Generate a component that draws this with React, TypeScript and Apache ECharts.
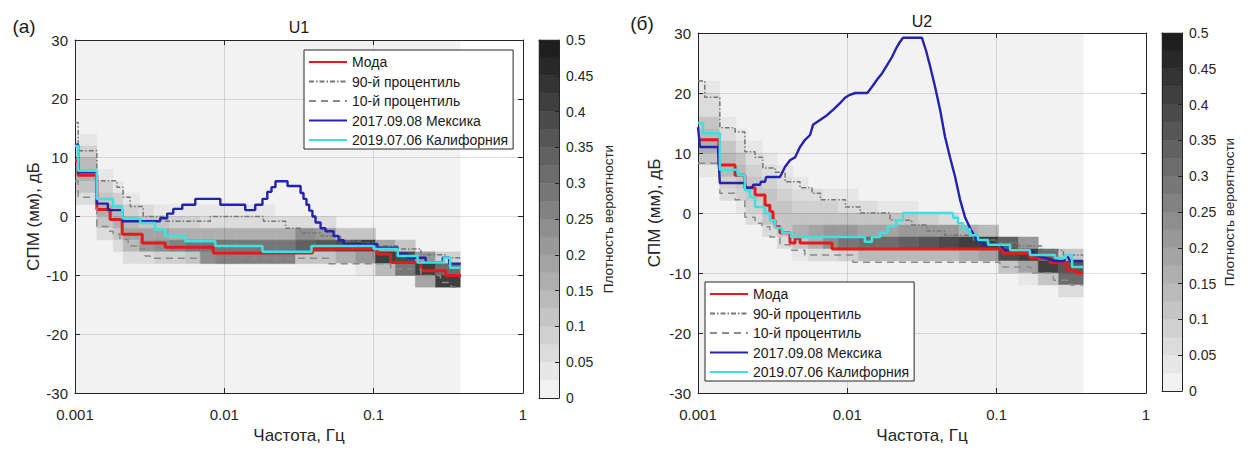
import { useEffect, useRef } from "react";
import * as echarts from "echarts";

const FONT = '"Liberation Sans", Arial, Helvetica, sans-serif';
const INK = "#262626";
const GRID_LINE = "rgba(38,38,38,0.15)";

const xTickLabels = ["0.001", "0.01", "0.1", "1"];
const legendNames = [
  "Мода",
  "90-й процентиль",
  "10-й процентиль",
  "2017.09.08 Мексика",
  "2019.07.06 Калифорния",
];

// Histogram frequency bin edges, Hz
const freqEdges = [
  0.001, 0.0014, 0.0018, 0.0021, 0.0027, 0.0034, 0.0043, 0.0055, 0.0069, 0.0087, 0.0119,
  0.016, 0.022, 0.03, 0.041, 0.056, 0.076, 0.103, 0.14, 0.19, 0.26, 0.38,
];
const binDb = 2;

// U1: upper edge (dB) of the first non-empty bin in each column, then densities going down
const u1ColumnTop = [14, 8, 6, 4, 2, 2, 2, 2, 2, 2, 2, 2, 2, 0, 0, -2, -2, -4, -4, -6, -6];
const u1ColumnDensity = [
  [0.04, 0.08, 0.14, 0.17, 0.12, 0.05],
  [0.04, 0.08, 0.12, 0.16, 0.12, 0.06],
  [0.04, 0.08, 0.13, 0.17, 0.12, 0.05],
  [0.03, 0.08, 0.14, 0.18, 0.14, 0.05],
  [0.05, 0.12, 0.18, 0.2, 0.07],
  [0.04, 0.1, 0.18, 0.24, 0.08],
  [0.04, 0.09, 0.17, 0.27, 0.09],
  [0.03, 0.08, 0.16, 0.29, 0.1],
  [0.03, 0.06, 0.15, 0.28, 0.24],
  [0.03, 0.06, 0.15, 0.28, 0.25],
  [0.03, 0.06, 0.15, 0.28, 0.26],
  [0.03, 0.06, 0.16, 0.28, 0.26],
  [0.02, 0.06, 0.17, 0.29, 0.26],
  [0.06, 0.24, 0.34, 0.12],
  [0.05, 0.2, 0.36, 0.12],
  [0.12, 0.38, 0.16, 0.02],
  [0.1, 0.4, 0.2, 0.03],
  [0.18, 0.42, 0.14],
  [0.1, 0.38, 0.28],
  [0.2, 0.42, 0.18],
  [0.08, 0.32, 0.4],
];

// U2 histogram columns
const u2ColumnTop = [22, 16, 14, 12, 10, 8, 6, 6, 4, 4, 2, 2, 2, 0, 0, -2, -2, -4, -4, -6, -6];
const u2ColumnDensity = [
  [0.03, 0.05, 0.07, 0.1, 0.14, 0.15, 0.1, 0.04],
  [0.04, 0.07, 0.11, 0.14, 0.13, 0.09, 0.05, 0.02],
  [0.04, 0.07, 0.1, 0.13, 0.12, 0.08, 0.04],
  [0.03, 0.06, 0.09, 0.11, 0.11, 0.09, 0.05, 0.02],
  [0.03, 0.05, 0.08, 0.1, 0.11, 0.1, 0.06, 0.02],
  [0.03, 0.05, 0.08, 0.1, 0.12, 0.12, 0.07, 0.02],
  [0.03, 0.06, 0.09, 0.12, 0.16, 0.12, 0.04],
  [0.02, 0.05, 0.08, 0.12, 0.18, 0.16, 0.05],
  [0.04, 0.08, 0.12, 0.2, 0.24, 0.06],
  [0.03, 0.06, 0.11, 0.2, 0.28, 0.08],
  [0.05, 0.1, 0.18, 0.3, 0.14],
  [0.04, 0.1, 0.18, 0.32, 0.14],
  [0.03, 0.1, 0.2, 0.34, 0.14],
  [0.08, 0.2, 0.36, 0.14],
  [0.06, 0.2, 0.38, 0.14],
  [0.16, 0.4, 0.16],
  [0.14, 0.42, 0.18],
  [0.34, 0.38, 0.1],
  [0.2, 0.42, 0.18, 0.03],
  [0.3, 0.4, 0.12],
  [0.12, 0.36, 0.3, 0.06],
];

// Spectral curves: [frequency Hz, dB], each value held until the next frequency
const u1Mode = [
  [0.001, 9.5], [0.00105, 7], [0.0014, 1.2], [0.00172, -0.5], [0.00207, -3], [0.00282, -4.5],
  [0.00402, -5.2], [0.00844, -6.2], [0.0389, -5.5], [0.106, -6.4], [0.13, -7.8], [0.207, -9.2],
  [0.304, -10], [0.384, -10],
];
const u1P90 = [
  [0.001, 16], [0.00105, 11.2], [0.0014, 6.1], [0.00191, 5], [0.0021, 3.3], [0.00234, 1.7],
  [0.00286, 0], [0.00402, -0.8], [0.00805, 0], [0.0183, -0.8], [0.0257, -2], [0.0324, -2.8],
  [0.0441, -3.3], [0.06, -4.2], [0.0818, -4.5], [0.106, -5], [0.145, -5.5], [0.207, -6.5],
  [0.304, -7], [0.384, -7],
];
const u1P10 = [
  [0.001, 6], [0.00105, 3.3], [0.0014, -1.7], [0.00166, -2.5], [0.0018, -3], [0.002, -3.9],
  [0.00227, -5], [0.00273, -5.5], [0.00295, -6.7], [0.00319, -7.1], [0.05, -8], [0.13, -8.9],
  [0.207, -10], [0.28, -11.2], [0.33, -12], [0.384, -12],
];
const u1Mexico = [
  [0.001, 12.2], [0.00105, 7.5], [0.0014, 2.2], [0.00166, 1.1], [0.00207, -0.8], [0.00372, -0.3],
  [0.00414, 0.5], [0.00455, 1.3], [0.00523, 2], [0.00639, 3], [0.0094, 2], [0.0138, 1.1],
  [0.0161, 2], [0.018, 3], [0.0194, 4.2], [0.0207, 5], [0.022, 6], [0.0265, 5.2], [0.0324, 4],
  [0.0339, 3], [0.0355, 2], [0.037, 1], [0.0389, 0], [0.0408, -1], [0.0441, -2], [0.0476, -2.5],
  [0.0539, -3.3], [0.0582, -4], [0.0629, -4.7], [0.106, -5.3], [0.145, -6.3], [0.169, -7],
  [0.223, -7.8], [0.29, -7], [0.32, -8], [0.384, -8],
];
const u1California = [
  [0.001, 12], [0.00105, 7.8], [0.0014, 3], [0.0018, 1.7], [0.00207, -0.3], [0.00273, -1.1],
  [0.00344, -2.2], [0.00402, -3.3], [0.00547, -4.2], [0.0087, -5], [0.018, -6], [0.0383, -5],
  [0.1, -5.5], [0.145, -6.7], [0.197, -7.8], [0.295, -7], [0.325, -8.7], [0.384, -8.7],
];

const u2Mode = [
  [0.001, 12.2], [0.00138, 8], [0.00177, 6.3], [0.00206, 4.2], [0.00241, 3], [0.00281, 1.3],
  [0.00303, 0.2], [0.00318, -1.2], [0.00328, -2.3], [0.00354, -3.3], [0.00413, -5],
  [0.00447, -4.2], [0.00482, -5], [0.0079, -6], [0.11, -6.7], [0.167, -7.5], [0.228, -8.3],
  [0.296, -9.5], [0.34, -10], [0.379, -10],
];
const u2P90 = [
  [0.001, 22], [0.00111, 19.3], [0.0014, 14.2], [0.00177, 13.5], [0.00206, 10.2], [0.00241, 9.3],
  [0.00272, 7.5], [0.00328, 6.8], [0.00383, 5.2], [0.00482, 4.2], [0.0058, 3.3], [0.0066, 2.2],
  [0.0097, 1], [0.0122, 0], [0.0193, -1.2], [0.027, -2], [0.034, -3], [0.045, -3.7],
  [0.07, -4.5], [0.1, -5], [0.14, -5.5], [0.2, -6.2], [0.28, -7], [0.379, -7],
];
const u2P10 = [
  [0.001, 8.3], [0.0014, 3.3], [0.00177, 2.2], [0.00206, -0.7], [0.00241, -1.7], [0.00268, -2.3],
  [0.00303, -4], [0.00354, -5.3], [0.00413, -6.2], [0.0052, -7], [0.0109, -8.2], [0.105, -9],
  [0.17, -10], [0.24, -11.2], [0.31, -12], [0.379, -12],
];
// Mexico event on U2, drawn point to point
const u2Mexico = [
  [0.001, 14.3], [0.00103, 11], [0.00136, 11], [0.0014, 5], [0.00206, 5], [0.0021, 4.2],
  [0.0023, 4.2], [0.00234, 4.7], [0.0026, 4.7], [0.00264, 5.2], [0.00281, 5.2], [0.00286, 6],
  [0.00354, 6], [0.00383, 7.7], [0.00413, 8.8], [0.00447, 9.3], [0.00482, 11], [0.00521, 12.2],
  [0.00563, 13], [0.00589, 14.7], [0.00656, 15.5], [0.00731, 16.3], [0.00802, 17.2],
  [0.00893, 18.3], [0.00965, 19.2], [0.0104, 19.7], [0.0113, 20], [0.0136, 20], [0.0146, 21],
  [0.0158, 22.2], [0.0171, 23.3], [0.0185, 24.7], [0.0199, 26], [0.0215, 27.7], [0.0225, 28.5],
  [0.0236, 29.2], [0.0316, 29.2], [0.0337, 27], [0.0358, 24.5], [0.0387, 21], [0.0418, 17.2],
  [0.0451, 12.7], [0.0487, 9.3], [0.0527, 6], [0.0569, 2.2], [0.0614, -0.7], [0.0663, -2.5],
  [0.0739, -4.5], [0.0836, -5.3], [0.105, -5.3], [0.114, -6.2], [0.167, -6.2], [0.181, -7],
  [0.211, -7.5], [0.246, -8], [0.283, -8], [0.296, -7], [0.31, -8], [0.379, -8],
];
const u2California = [
  [0.001, 15], [0.00108, 13.3], [0.0014, 7.2], [0.00185, 6.3], [0.00206, 3.8], [0.00223, 2.7],
  [0.00241, 1], [0.00281, 0], [0.00303, -1.2], [0.00328, -2.5], [0.00365, -3.3], [0.0042, -4],
  [0.0131, -4.8], [0.0146, -4], [0.0166, -3.3], [0.0187, -2.2], [0.0212, -1.2], [0.0236, 0],
  [0.051, -0.8], [0.0551, -1.7], [0.0596, -2.7], [0.0663, -3.7], [0.075, -4.5], [0.0876, -5.3],
  [0.123, -6.2], [0.167, -7], [0.246, -7.5], [0.29, -7], [0.32, -9], [0.379, -9],
];

const densityMax = 0.5;
const colorSteps = 20;

// Stepped reversed-gray colormap
function shade(d: number): string {
  const k = Math.max(0, Math.min(colorSteps - 1, Math.floor((d / densityMax) * colorSteps + 1e-9)));
  const g = Math.round(242 - (k * 212) / (colorSteps - 1));
  return `rgb(${g},${g},${g})`;
}

function buildCells(tops: number[], dens: number[][]) {
  const cells: number[][] = [[freqEdges[0], freqEdges[freqEdges.length - 1], 30, -30, 0]];
  tops.forEach((top, i) => {
    dens[i].forEach((d, j) => {
      cells.push([freqEdges[i], freqEdges[i + 1], top - j * binDb, top - (j + 1) * binDb, d]);
    });
  });
  return cells;
}

const colorbarCells = Array.from({ length: colorSteps }, (_, i) => [
  (i * densityMax) / colorSteps,
  ((i + 1) * densityMax) / colorSteps,
]);

const STYLE: Record<string, any> = {
  mode: { color: "#e41a1c", width: 3, type: "solid" },
  p90: { color: "#777777", width: 1.5, type: [5, 2, 1.5, 2] },
  p10: { color: "#8a8a8a", width: 1.5, type: [7, 5] },
  mexico: { color: "#2323b0", width: 2.4, type: "solid" },
  california: { color: "#3ee0e0", width: 2.5, type: "solid" },
};

const heatRender = (params: any, api: any) => {
  const a = api.coord([api.value(0), api.value(2)]);
  const b = api.coord([api.value(1), api.value(3)]);
  const fill = shade(api.value(4));
  return {
    type: "rect",
    shape: { x: a[0], y: a[1], width: b[0] - a[0], height: b[1] - a[1] },
    style: { fill, stroke: fill, lineWidth: 0.5 },
  };
};

const barRender = (params: any, api: any) => {
  const a = api.coord([0, api.value(1)]);
  const b = api.coord([1, api.value(0)]);
  const fill = shade(api.value(0));
  return {
    type: "rect",
    shape: { x: a[0], y: a[1], width: b[0] - a[0], height: b[1] - a[1] },
    style: { fill, stroke: fill, lineWidth: 0.5 },
  };
};

const lineSeries = (name: string, data: number[][], ai: number, style: any, step: any = "end") => ({
  type: "line",
  name,
  data,
  xAxisIndex: ai,
  yAxisIndex: ai,
  step,
  symbol: "none",
  showSymbol: false,
  silent: true,
  z: 3,
  color: style.color,
  lineStyle: style,
});

const plotX = (gridIndex: number, top: boolean) => ({
  type: "log",
  logBase: 10,
  gridIndex,
  min: 0.001,
  max: 1,
  position: top ? "top" : "bottom",
  z: 1,
  axisLine: { show: true, onZero: false, lineStyle: { color: INK, width: 1 } },
  axisTick: { show: true, inside: true, length: 5, lineStyle: { color: INK } },
  axisLabel: top
    ? { show: false }
    : {
        show: true,
        margin: 14,
        fontSize: 15,
        fontFamily: FONT,
        color: INK,
        formatter: (v: number) => xTickLabels[Math.round(Math.log10(v)) + 3],
      },
  splitLine: { show: !top, lineStyle: { color: GRID_LINE, width: 1 } },
  minorTick: { show: false },
  name: top ? "" : "Частота, Гц",
  nameLocation: "middle",
  nameGap: 33,
  nameTextStyle: { fontSize: 17, fontFamily: FONT, color: INK },
});

const plotY = (gridIndex: number, right: boolean, nameGap: number) => ({
  type: "value",
  gridIndex,
  min: -30,
  max: 30,
  interval: 10,
  position: right ? "right" : "left",
  z: 1,
  axisLine: { show: true, onZero: false, lineStyle: { color: INK, width: 1 } },
  axisTick: { show: true, inside: true, length: 5, lineStyle: { color: INK } },
  axisLabel: right
    ? { show: false }
    : { show: true, margin: 7, fontSize: 15, fontFamily: FONT, color: INK },
  splitLine: { show: !right, lineStyle: { color: GRID_LINE, width: 1 } },
  name: right ? "" : "СПМ (мм), дБ",
  nameLocation: "middle",
  nameGap,
  nameTextStyle: { fontSize: 17, fontFamily: FONT, color: INK },
});

const barX = (gridIndex: number, top: boolean) => ({
  type: "value",
  gridIndex,
  min: 0,
  max: 1,
  position: top ? "top" : "bottom",
  z: 1,
  axisLine: { show: true, onZero: false, lineStyle: { color: INK, width: 1 } },
  axisTick: { show: false },
  axisLabel: { show: false },
  splitLine: { show: false },
});

const barY = (gridIndex: number, right: boolean, nameGap: number) => ({
  type: "value",
  gridIndex,
  min: 0,
  max: densityMax,
  interval: 0.05,
  position: right ? "right" : "left",
  z: 1,
  axisLine: { show: true, onZero: false, lineStyle: { color: INK, width: 1 } },
  axisTick: { show: right, inside: true, length: 4, lineStyle: { color: INK } },
  axisLabel: right
    ? { show: true, margin: 7, fontSize: 14, fontFamily: FONT, color: INK }
    : { show: false },
  splitLine: { show: false },
  name: right ? "Плотность вероятности" : "",
  nameLocation: "middle",
  nameGap,
  nameTextStyle: { fontSize: 13.5, fontFamily: FONT, color: INK },
});

const legendBase = {
  orient: "vertical",
  selectedMode: false,
  data: legendNames,
  itemWidth: 38,
  itemHeight: 14,
  itemGap: 5.5,
  padding: [5, 5, 2, 4],
  backgroundColor: "#ffffff",
  borderColor: INK,
  borderWidth: 1,
  borderRadius: 0,
  // line samples only, no marker on them
  itemStyle: { opacity: 0, borderWidth: 0 },
  textStyle: { fontSize: 14, fontFamily: FONT, color: "#1a1a1a" },
};

const titleText = (text: string, x: number, y: number, size: number) => ({
  type: "text",
  x,
  y,
  silent: true,
  style: {
    text,
    fontSize: size,
    fontFamily: FONT,
    fill: "#1a1a1a",
    align: "center",
    verticalAlign: "middle",
  },
});

export default function App() {
  const ref = useRef<HTMLDivElement>(null);

  useEffect(() => {
    if (!ref.current) return;
    const chart = echarts.init(ref.current, undefined, { renderer: "svg" });
    chart.setOption({
      animation: false,
      backgroundColor: "#ffffff",
      grid: [
        { left: 75, top: 40, width: 448, height: 360 },
        { left: 698, top: 33, width: 448, height: 360 },
        { left: 539, top: 40, width: 20, height: 358 },
        { left: 1162, top: 33, width: 20, height: 358 },
      ],
      xAxis: [
        plotX(0, false),
        plotX(0, true),
        plotX(1, false),
        plotX(1, true),
        barX(2, false),
        barX(2, true),
        barX(3, false),
        barX(3, true),
      ],
      yAxis: [
        plotY(0, false, 31),
        plotY(0, true, 0),
        plotY(1, false, 35),
        plotY(1, true, 0),
        barY(2, true, 42),
        barY(2, false, 0),
        barY(3, true, 40),
        barY(3, false, 0),
      ],
      legend: [
        { ...legendBase, left: 304, top: 50 },
        { ...legendBase, left: 705, top: 282 },
      ],
      graphic: [
        titleText("U1", 299, 27, 16),
        titleText("U2", 922, 21, 16),
        titleText("(а)", 24, 26, 19),
        titleText("(б)", 642, 23, 19),
      ],
      series: [
        {
          type: "custom",
          name: "u1-density",
          xAxisIndex: 0,
          yAxisIndex: 0,
          z: -1,
          silent: true,
          clip: true,
          encode: { x: [0, 1], y: [2, 3] },
          data: buildCells(u1ColumnTop, u1ColumnDensity),
          renderItem: heatRender,
        },
        {
          type: "custom",
          name: "u2-density",
          xAxisIndex: 2,
          yAxisIndex: 2,
          z: -1,
          silent: true,
          clip: true,
          encode: { x: [0, 1], y: [2, 3] },
          data: buildCells(u2ColumnTop, u2ColumnDensity),
          renderItem: heatRender,
        },
        {
          type: "custom",
          name: "u1-colorbar",
          xAxisIndex: 4,
          yAxisIndex: 4,
          z: -1,
          silent: true,
          encode: { y: [0, 1] },
          data: colorbarCells,
          renderItem: barRender,
        },
        {
          type: "custom",
          name: "u2-colorbar",
          xAxisIndex: 6,
          yAxisIndex: 6,
          z: -1,
          silent: true,
          encode: { y: [0, 1] },
          data: colorbarCells,
          renderItem: barRender,
        },
        lineSeries(legendNames[0], u1Mode, 0, STYLE.mode),
        lineSeries(legendNames[1], u1P90, 0, STYLE.p90),
        lineSeries(legendNames[2], u1P10, 0, STYLE.p10),
        lineSeries(legendNames[3], u1Mexico, 0, STYLE.mexico),
        lineSeries(legendNames[4], u1California, 0, STYLE.california),
        lineSeries(legendNames[0], u2Mode, 2, STYLE.mode),
        lineSeries(legendNames[1], u2P90, 2, STYLE.p90),
        lineSeries(legendNames[2], u2P10, 2, STYLE.p10),
        lineSeries(legendNames[3], u2Mexico, 2, STYLE.mexico, false),
        lineSeries(legendNames[4], u2California, 2, STYLE.california),
      ],
    });
    return () => chart.dispose();
  }, []);

  return (
    <div
      ref={ref}
      style={{ position: "absolute", left: 0, top: 0, width: 1248, height: 449 }}
    />
  );
}
